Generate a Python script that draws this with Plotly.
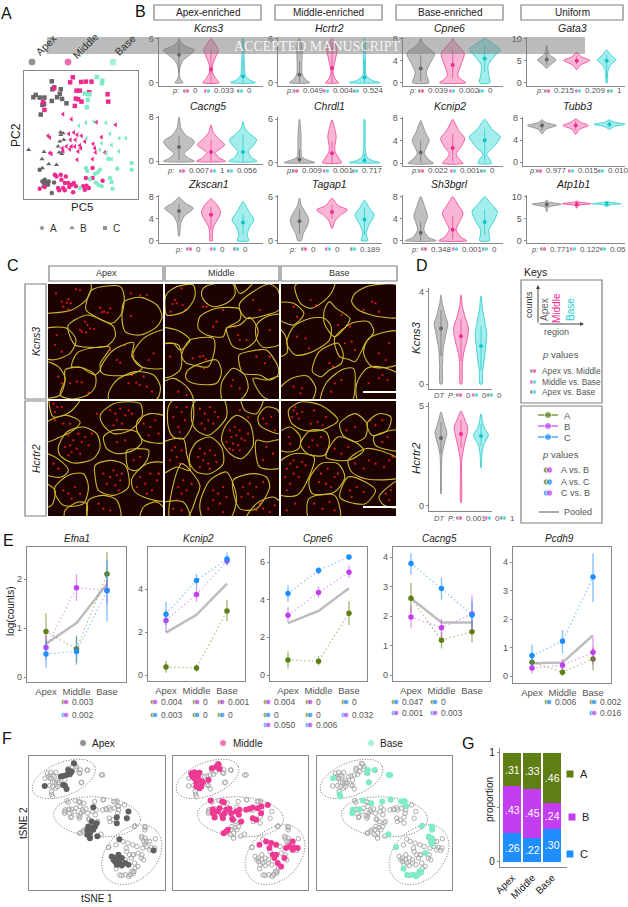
import numpy as np
import plotly.graph_objects as go

W, H = 628, 907
FONT = "Liberation Sans"
GREY, PINK, TEAL = "#666666", "#ee2a8f", "#14cfcf"
MINT = "#7febc7"
OLIVE, PURPLE, BLUE = "#5f7f14", "#c23ef0", "#1f8fff"
TXT = "#555555"

# ---------- Panel A: PC5 / PC2 scores (arbitrary score units) ----------
a_sq_apex = [(156,244),(158,268),(183,268),(101,292),(108,285),(120,293),(134,293),(156,303),(172,292),(187,297),(200,310),(128,315),(133,312),(123,344),(163,262),(180,282)]
a_sq_mid = [(219,232),(211,247),(244,246),(258,245),(275,245),(163,265),(230,272),(240,272),(228,296),(235,298),(245,305),(225,318),(323,283),(130,307),(134,330),(268,277),(325,305)]
a_sq_base = [(291,231),(307,242),(306,250),(255,281),(268,283),(264,300),(261,322)]
a_tr_apex = [(87,450),(133,456),(127,478),(147,493),(170,495),(128,505),(182,397),(190,400),(183,405),(180,425),(192,420),(175,440),(178,458),(188,455),(186,462)]
a_tr_mid = [(190,343),(215,358),(347,375),(290,367),(145,408),(150,413),(207,402),(222,398),(232,405),(245,408),(227,420),(212,420),(280,432),(305,412),(255,425),(200,440),(215,440),(225,440),(240,437),(243,445),(235,455),(188,445),(150,460),(155,462),(285,445),(287,458),(315,458),(232,480),(278,478),(190,453),(210,448)]
a_tr_base = [(258,368),(282,365),(318,369),(237,378),(378,415),(358,415),(330,402),(305,430),(300,450),(320,460),(357,455),(328,478),(335,478),(260,415),(335,435)]
a_ci_apex = [(120,510),(135,540),(130,545),(140,548),(147,545),(135,552),(145,555),(163,548),(156,580),(132,560),(128,545)]
a_ci_mid = [(165,525),(183,525),(198,530),(185,540),(195,550),(205,550),(215,555),(222,550),(228,560),(208,562),(190,565),(175,565),(178,572),(195,572),(120,567),(135,562),(220,578),(250,560),(260,558),(267,565),(255,570),(258,535),(278,535),(278,505),(308,543),(170,530)]
a_ci_base = [(258,505),(262,513),(300,510),(293,518),(285,522),(352,507),(395,490),(395,510),(330,535),(335,547),(288,548),(296,556),(305,560),(338,567),(240,565),(270,538),(325,477)]

# ---------- Violins: ([(value, relative width)...], median, low, high), apex/middle/base ----------
kcns3 = [([(0,.27),(.4,.12),(.9,.03),(2,.05),(3,.25),(3.8,.7),(4.45,1),(5,.4),(5.5,.12),(6,.02)],3.8,1.5,5.4),
         ([(0,.53),(.6,.3),(1.5,.08),(2.5,.12),(3.5,.3),(4.5,.47),(5.3,.25),(6,.03)],1.8,0,4.6),
         ([(0,.8),(.4,.4),(1,.15),(2,.1),(3.5,.07),(5,.06),(6,.02)],.85,0,3.4)]
hcrtr2 = [([(0,.65),(.5,.35),(1.2,.17),(2.5,.15),(4,.17),(5,.14),(6,.02)],1.1,0,2.9),
          ([(0,.43),(.5,.2),(1.5,.07),(3,.2),(4.5,.33),(5.3,.22),(6,.03)],2,0,5.4),
          ([(0,1),(.3,.5),(1,.1),(2.5,.06),(4,.07),(5,.06),(6,.02)],.7,0,3.2)]
cpne6 = [([(0,.53),(1,.42),(2,.36),(3.5,.6),(5.3,.9),(6.5,.4),(7.3,.12),(8,.02)],2.6,.2,5),
         ([(0,.85),(.6,.55),(1.4,.33),(3,.5),(5.3,.75),(6.7,.38),(7.5,.1),(8,.02)],3.2,.8,5.9),
         ([(0,.33),(1.5,.25),(3.2,.22),(4.7,.6),(6,1),(7,.6),(7.7,.2),(8,.03)],4.4,2,6.9)]
gata3 = [([(3.3,.02),(4.2,.28),(5.2,.6),(6.2,.22),(7.2,.06),(8.5,.01)],5.3,4,7),
         ([(3,.02),(4,.25),(5.1,.85),(5.8,.35),(6.8,.03)],5,4.2,6),
         ([(0,.04),(2.5,.07),(4,.25),(5.2,.6),(6.2,.3),(7.4,.02)],5,1,6.3)]
cacng5 = [([(0,1),(.6,.6),(1.4,.33),(2.5,.75),(3.6,1),(4.8,.42),(6,.13),(8,.01)],2.6,.2,4.6),
          ([(0,.93),(.6,.55),(1.6,.27),(2.3,.6),(3,.88),(4.2,.45),(5.3,.14),(6.6,.01)],1.7,0,3.9),
          ([(0,.9),(.7,.55),(1.75,.33),(2.8,.65),(3.9,.88),(5,.45),(6,.12),(7.2,.01)],1.7,0,4.8)]
chrdl1 = [([(0,1),(.35,.55),(.8,.15),(2,.1),(3.5,.1),(5,.06),(6,.01)],.45,0,1.8),
          ([(0,.62),(.6,.45),(1.5,.2),(2.2,.18),(3.6,.27),(5,.14),(5.9,.02)],1.3,0,3),
          ([(0,1),(.3,.5),(.8,.15),(2,.05),(4,.04),(6,.02)],.35,0,1.2)]
kcnip2 = [([(0,.82),(.7,.5),(1.8,.22),(3,.4),(4.1,.55),(5.5,.3),(7.6,.01)],1.9,.2,4),
          ([(0,.67),(.8,.4),(1.7,.22),(3,.55),(4.4,.78),(5.8,.4),(7.8,.01)],2.7,.3,5.2),
          ([(0,.44),(.8,.3),(1.6,.12),(3,.6),(4.7,1),(6,.5),(7.8,.02)],4.1,.3,6.1)]
tubb3 = [([(5.2,.02),(6,.25),(6.7,.93),(7.2,.25),(7.7,.02)],6.7,5.8,7.4),
         ([(5.1,.02),(6,.25),(6.7,.82),(7.3,.3),(7.9,.02)],6.7,5.8,7.5),
         ([(6,.02),(6.5,.3),(6.9,1),(7.3,.3),(7.7,.02)],6.9,6.3,7.4)]
zkscan1 = [([(.8,.01),(1.8,.07),(3.1,.11),(4.5,.35),(5.9,.93),(6.8,.42),(7.9,.02)],5.4,3.5,6.7),
           ([(0,.09),(1,.08),(2.5,.15),(4,.45),(5,.62),(6.3,.45),(7.6,.02)],4.7,2,6.2),
           ([(0,.38),(.7,.3),(1.3,.27),(2.6,.45),(3.8,.71),(5.2,.4),(7.1,.02)],3.3,1,4.9)]
tagap1 = [([(0,.11),(1,.25),(2,.5),(2.8,.6),(3.8,.4),(4.8,.12),(5.8,.01)],2.65,.9,4.3),
          ([(1.7,.02),(2.7,.2),(3.5,.55),(4.2,1),(4.8,.4),(5.8,.02)],3.9,3,4.9),
          ([(0,.22),(.5,.16),(1,.11),(2.2,.3),(3.5,.62),(4.5,.3),(5.5,.02)],2.9,.8,4.5)]
sh3bgrl = [([(0,1),(.6,.5),(2,.2),(3.2,.3),(4.4,.44),(6,.28),(8,.02)],1.45,0,3.5),
           ([(0,.9),(.6,.55),(2,.22),(3.5,.45),(5,.67),(6.5,.35),(8,.02)],2,.2,4.5),
           ([(0,.33),(1,.28),(2,.27),(3.6,.6),(5.3,.82),(6.6,.45),(8,.02)],3.4,1,5.7)]
atp1b1 = [([(6.6,.01),(7.6,.1),(8.3,.93),(8.8,.12),(9.2,.01)],8.2,7.6,8.9),
          ([(7.4,.01),(8,.12),(8.4,.93),(8.8,.15),(9,.01)],8.3,7.7,8.9),
          ([(7.8,.02),(8.2,.3),(8.4,.93),(8.7,.25),(8.9,.02)],8.4,8,8.7)]
d_kcns3 = [([(0,.06),(.8,.09),(1.5,.14),(2.3,.36),(2.6,.44),(3,.26),(3.5,.08),(3.85,.01)],2.4,1.2,3.2),
           ([(0,.05),(.8,.08),(1.3,.16),(2,.42),(2.4,.48),(2.9,.26),(3.4,.08),(3.85,.01)],2.07,1,2.8),
           ([(0,.07),(.5,.1),(1,.2),(1.6,.3),(2.2,.37),(2.7,.25),(3.2,.1),(3.8,.01)],1.65,.6,2.5)]
d_hcrtr2 = [([(.6,.01),(1.5,.03),(2.5,.06),(3,.18),(3.65,.38),(4.2,.18),(4.7,.01)],3.4,2.6,4.2),
            ([(.15,.02),(1.5,.04),(2.3,.05),(3,.2),(3.9,.44),(4.3,.26),(4.75,.01)],3.6,2.9,4.3),
            ([(1.9,.01),(2.6,.06),(3,.15),(3.55,.48),(3.9,.22),(4.2,.1),(4.6,.01)],3.5,3,4.1)]

c1_cells = [[(130,60),(272,72),(262,115),(215,150),(144,160),(130,160)],[(275,90),(320,78),(360,80),(372,110),(365,160),(335,190),(290,172),(258,150),(262,115)],[(372,125),(420,112),(470,135),(485,170),(470,200),(420,225),(375,215),(365,160)],[(205,195),(260,165),(305,180),(340,200),(345,230),(320,258),(270,262),(225,255),(205,215)],[(130,210),(200,205),(228,240),(210,280),(170,298),(144,298),(130,290)],[(130,305),(175,320),(195,355),(180,405),(144,415),(130,415)],[(195,330),(240,322),(285,345),(285,380),(262,405),(215,417),(180,405),(195,360)],[(215,320),(230,280),(270,265),(330,262),(300,310),(300,330),(285,345),(240,322)],[(305,315),(340,270),(400,248),(395,290),(425,325),(385,345),(320,345),(302,335)],[(400,275),(430,235),(488,210),(500,220),(500,320),(440,325),(410,312),(398,290)],[(325,400),(350,360),(405,335),(460,345),(480,380),(470,417),(330,425)]]
c2_cells = [[(498,105),(530,80),(580,75),(585,110),(560,150),(520,165),(500,165)],[(610,85),(640,72),(700,72),(705,105),(680,130),(640,140),(615,125),(605,105)],[(705,65),(720,100),(740,90),(760,65)],[(720,130),(760,95),(810,72),(835,90),(838,150),(800,165),(740,175),(720,150)],[(600,170),(650,145),(720,148),(720,180),(680,205),(670,230),(620,225),(595,205)],[(680,205),(720,195),(750,172),(775,210),(765,245),(730,268),(700,260),(685,230)],[(770,195),(800,170),(845,165),(845,250),(790,262),(770,235)],[(480,205),(530,210),(570,240),(540,270),(520,250),(480,250)],[(550,270),(570,240),(640,235),(645,265),(625,320),(580,315),(560,310),(545,290)],[(480,255),(535,255),(545,290),(540,330),(510,350),(480,350)],[(560,335),(590,315),(650,300),(665,335),(650,370),(580,370),(558,355)],[(718,285),(760,272),(800,270),(835,320),(835,345),(810,360),(780,345),(730,340),(718,310)],[(665,370),(700,325),(735,345),(745,385),(725,417),(670,425)],[(760,355),(800,360),(838,350),(845,425),(790,410)],[(480,375),(520,355),(565,385),(580,425),(480,425)]]
c3_cells = [[(885,75),(1000,65),(990,100),(960,130),(930,145),(900,130)],[(1060,100),(1100,78),(1190,78),(1190,170),(1130,170),(1070,150),(1050,125)],[(985,125),(1005,145),(1045,175),(1040,190),(1000,230),(970,190),(970,150)],[(860,250),(880,200),(930,175),(970,175),(990,200),(985,240),(935,275),(885,285)],[(1000,235),(1050,190),(1100,185),(1115,215),(1090,250),(1060,305),(1040,298),(1015,290)],[(1085,280),(1100,235),(1190,215),(1190,310),(1110,320)],[(935,335),(955,275),(1010,250),(1025,280),(1020,310),(985,330),(960,350)],[(835,205),(855,225),(860,280),(835,290)],[(835,390),(875,355),(920,348),(945,385),(930,425),(835,425)],[(960,425),(975,370),(1020,330),(1055,325),(1060,380),(1050,425)],[(1065,370),(1095,325),(1130,320),(1190,345),(1190,425),(1070,425)],[(835,130),(880,130),(910,160),(880,195),(835,175)]]
c4_cells = [[(300,465),(340,430),(420,430),(425,470),(390,510),(340,520),(310,495)],[(412,480),(450,460),(495,470),(495,545),(430,540),(410,510)],[(175,560),(200,515),(250,500),(290,520),(300,560),(280,595),(220,608),(180,585)],[(135,490),(200,465),(240,485),(220,510),(180,530),(135,545)],[(310,530),(340,510),(410,515),(425,545),(400,570),(350,580),(320,565)],[(285,615),(330,600),(375,615),(385,680),(340,705),(295,690),(285,650)],[(380,570),(410,565),(445,570),(440,600),(410,630),(385,625)],[(395,655),(440,610),(495,610),(495,720),(430,710),(400,690)],[(165,680),(205,645),(250,640),(265,680),(250,730),(190,735),(165,700)],[(265,720),(310,705),(350,720),(360,775),(265,775)],[(135,580),(180,600),(205,630),(185,650),(135,640)],[(195,750),(235,725),(260,730),(255,775),(195,775)],[(135,670),(165,690),(155,735),(135,740)],[(150,415),(240,415),(210,455),(160,470)],[(430,740),(470,725),(495,750),(495,775),(420,775)]]
c5_cells = [[(505,440),(525,415),(575,415),(578,490),(550,535),(520,530),(505,500)],[(580,430),(600,415),(670,415),(680,470),(625,525),(590,510),(575,480)],[(675,500),(710,465),(750,490),(760,555),(725,595),(690,580),(665,540)],[(570,580),(590,545),(630,530),(665,560),(670,610),(630,640),(590,635),(570,610)],[(485,550),(550,535),(560,580),(570,630),(530,620),(485,640)],[(510,720),(545,610),(600,675),(590,710),(560,775),(510,775)],[(600,730),(630,660),(680,635),(700,670),(710,720),(690,775),(610,775)],[(700,660),(760,640),(800,650),(810,680),(770,745),(720,745)],[(770,540),(800,545),(845,540),(845,620),(780,620)],[(775,470),(800,440),(835,450),(845,520),(780,495)],[(740,775),(770,730),(820,710),(845,730),(845,775)],[(485,730),(550,725),(570,775),(485,775)],[(725,415),(790,415),(770,460),(735,450)]]
c6_cells = [[(865,450),(900,425),(960,435),(1010,480),(960,510),(910,510),(875,490)],[(1015,490),(1060,460),(1095,490),(1090,530),(1060,545),(1025,525)],[(900,550),(930,510),(975,515),(985,545),(970,585),(920,580)],[(835,520),(870,500),(900,530),(895,565),(860,575),(835,565)],[(1095,490),(1130,460),(1165,470),(1155,510),(1110,525)],[(1040,600),(1090,565),(1130,570),(1190,600),(1190,650),(1090,655),(1050,635)],[(975,590),(1010,530),(1060,545),(1085,570),(1040,600)],[(835,610),(880,580),(940,590),(925,650),(890,705),(835,700)],[(925,660),(960,610),(1010,610),(1030,650),(1000,695),(935,700)],[(1015,710),(1040,650),(1090,665),(1120,690),(1090,730),(1040,725)],[(1130,710),(1190,660),(1190,740),(1145,735)],[(925,715),(1000,705),(1015,775),(925,775)],[(1115,530),(1190,510),(1190,570),(1120,555)]]

c1_spots = [(185,125),(205,118),(200,128),(212,130),(190,140),(228,88),(240,90),(205,148),(168,100),(300,143),(312,155),(322,158),(330,145),(305,157),(255,185),(262,195),(240,210),(245,215),(270,205),(282,207),(258,218),(392,168),(392,100),(440,105),(420,105),(165,255),(185,275),(170,225),(360,308),(330,270),(385,370),(408,368),(418,375),(395,345),(430,350),(440,380),(455,395),(210,370),(230,365),(245,367),(185,370),(175,350),(265,398),(350,300),(400,290),(445,300),(460,280),(375,255)]
c2_spots = [(518,132),(512,155),(530,130),(548,135),(555,150),(545,85),(525,120),(600,290),(610,288),(578,295),(560,340),(618,298),(612,325),(510,290),(545,290),(715,225),(720,240),(705,200),(740,240),(780,270),(770,290),(795,310),(810,290),(695,378),(720,385),(700,360),(670,150),(650,185),(640,200),(760,120),(780,150),(810,210),(535,395),(560,405),(620,140),(610,140)]
c3_spots = [(880,140),(890,170),(930,120),(945,135),(915,235),(890,230),(925,265),(1020,165),(1010,195),(1045,200),(1050,245),(1060,270),(1030,250),(985,310),(995,320),(1000,370),(1020,360),(990,395),(1110,125),(1120,130),(1130,155),(1085,150),(1140,345),(1130,355),(1155,360),(1100,370),(905,385),(880,380),(900,400),(1160,250),(1130,280),(1150,300)]
c4_spots = [(160,430),(172,440),(165,455),(185,440),(330,450),(345,460),(360,445),(375,465),(385,450),(350,480),(365,490),(340,495),(395,460),(205,525),(220,540),(235,520),(245,545),(255,530),(265,555),(230,565),(210,555),(195,560),(275,520),(215,575),(240,580),(205,585),(165,480),(190,490),(430,490),(450,500),(465,480),(445,525),(475,520),(340,630),(350,645),(360,660),(330,650),(320,670),(345,675),(365,640),(310,640),(355,690),(420,650),(435,670),(450,640),(470,660),(410,680),(455,690),(475,640),(440,700),(190,690),(205,700),(225,680),(240,700),(215,715),(295,730),(310,745),(330,750),(400,600),(420,590),(350,545),(375,540),(290,460),(210,490),(175,625),(160,610)]
c5_spots = [(530,440),(545,455),(520,470),(555,480),(535,500),(540,515),(560,440),(600,445),(615,460),(630,440),(645,455),(625,480),(605,490),(640,490),(655,470),(615,505),(690,510),(705,500),(720,510),(710,525),(695,530),(725,535),(680,545),(700,550),(715,555),(735,540),(700,570),(720,570),(690,565),(745,520),(600,565),(615,580),(630,570),(645,585),(595,590),(610,600),(625,610),(650,605),(600,620),(630,625),(515,570),(530,590),(510,600),(545,570),(525,560),(540,610),(550,660),(535,680),(560,690),(545,700),(530,720),(575,670),(640,690),(655,700),(670,680),(640,720),(660,730),(680,710),(625,745),(670,755),(730,680),(750,670),(770,680),(745,700),(725,710),(760,710),(790,665),(800,490),(815,470),(790,475),(825,510),(800,560),(820,580),(790,600),(770,750),(790,745),(810,755),(780,730),(825,735),(520,745),(545,750),(720,450),(745,470)]
c6_spots = [(880,450),(890,460),(875,470),(895,475),(885,440),(905,455),(930,490),(950,485),(965,495),(975,470),(940,450),(1105,480),(1120,495),(1140,480),(1035,510),(1060,500),(935,540),(950,555),(925,560),(960,530),(865,530),(870,550),(880,600),(870,610),(890,620),(905,605),(880,640),(860,625),(895,650),(870,670),(915,615),(855,650),(860,690),(1100,600),(1120,610),(1145,620),(1085,625),(1160,600),(1060,610),(960,640),(980,625),(1000,650),(975,670),(955,665),(1010,640),(990,680),(1045,690),(1065,680),(1085,695),(1050,710),(1150,700),(1165,690),(1160,720),(940,730),(965,745),(985,725),(1000,750),(1020,580),(1040,560),(1000,565),(1140,545),(1155,530),(885,730),(860,750),(1170,590)]

# ---------- Panel E: log(counts), low and high of each bar ----------
e_genes = ["Efna1", "Kcnip2", "Cpne6", "Cacng5", "Pcdh9"]
efna1_a = ([.93,.57,2.1],[.6,.3,1.7],[1.3,.85,2.55])
efna1_b = ([.6,1.82,1.77],[.35,1.55,1.5],[.85,2.1,2.0])
efna1_c = ([.47,.52,1.76],[.18,.25,1.13],[.75,.8,2.4])
efna1_pool = [.68,1.1,1.9]
kcnip2_a = ([.37,.33,2.98],[.1,.15,2.5],[.65,.5,3.5])
kcnip2_b = ([2.53,3.75,5.3],[2,3.4,5.1],[3,4.1,5.5])
kcnip2_c = ([2.83,4.4,5.4],[2.3,4.1,5.1],[3.4,4.7,5.7])
kcnip2_pool = [1.97,2.8,4.25]
cpne6_a = ([.8,.73,3.28],[.35,.5,2.65],[1.25,1,3.9])
cpne6_b = ([3.17,4.38,5.45],[2.8,4.1,5.15],[3.6,4.7,5.8])
cpne6_c = ([4.33,5.55,6.27],[3.9,5.35,6.1],[4.75,5.75,6.4])
cpne6_pool = [2.75,3.4,4.6]
cacng5_a = ([2.6,1.18,1.47],[2.1,.9,1.1],[3.13,1.45,1.85])
cacng5_b = ([1.97,1.6,2.07],[1.6,1.3,1.5],[2.35,1.9,2.7])
cacng5_c = ([3.78,2.93,2.03],[3.4,2.55,1.6],[4.13,3.3,2.5])
cacng5_pool = [2.6,1.78,1.78]
pcdh9_a = ([.48,.13,.6],[.3,0,.2],[.7,.3,1])
pcdh9_b = ([.28,.38,.83],[.1,.2,.4],[.5,.6,1.35])
pcdh9_c = ([.72,1.22,3.47],[.35,.8,2.6],[1.1,1.62,4.3])
pcdh9_pool = [.45,.47,1.43]

# ---------- Panel F: tSNE embedding per region ----------
tsne_apex = [(205,225),(190,243),(200,240),(215,230),(222,205),(210,238),(183,245),(135,273),(195,272),(200,282),(190,270),(280,337),(385,350),(380,370),(350,367),(350,385),(275,380),(290,385),(265,395),(285,395),(262,405),(280,405),(270,415),(292,424),(270,430),(262,420),(275,398),(358,433),(335,485),(345,490),(355,495),(365,490),(375,505),(350,510),(365,512),(385,510),(355,480),(345,500),(460,467),(340,495),(358,505)]
tsne_mid_raw = [(575,235),(585,232),(600,233),(595,245),(585,250),(590,262),(605,258),(578,245),(600,280),(590,275),(605,275),(627,255),(637,220),(657,208),(660,222),(650,215),(610,262),(633,317),(668,320),(673,322),(640,343),(660,340),(640,355),(645,368),(655,350),(668,362),(680,345),(690,342),(675,355),(695,355),(710,350),(720,345),(718,360),(700,375),(670,370),(740,345),(750,342),(760,338),(775,340),(785,335),(805,330),(785,355),(770,375),(760,370),(698,372),(685,405),(672,415),(680,410),(725,380),(780,450),(800,440),(815,445),(830,450),(810,460),(820,480),(825,490),(835,505),(845,515),(855,490),(860,460),(870,455),(880,440),(885,458),(895,460),(880,465),(830,480)]
tsne_base_raw = [(70,250),(90,298),(92,305),(175,225),(172,233),(195,225),(178,263),(238,240),(242,240),(130,345),(128,355),(150,343),(160,317),(185,325),(218,320),(243,314),(275,320),(285,318),(290,333),(338,393),(368,395),(368,405),(237,418),(260,457),(358,425),(368,430),(365,440),(368,448),(348,475),(282,522),(293,541),(310,540),(320,545),(330,530),(335,530),(325,540)]
tsne_extra = [(160,240),(150,250),(165,262),(150,272),(175,265),(155,290),(230,215),(240,235),(263,226),(245,262),(205,322),(240,335),(250,350),(205,345),(195,350),(215,365),(240,365),(310,315),(345,320),(355,345),(320,345),(330,345),(240,415),(330,380),(403,395),(435,398),(325,458),(410,455),(425,430),(440,440),(465,432),(380,470),(400,480),(425,480),(430,495),(405,520),(390,540),(400,535),(365,542),(375,495)]
ellipse_centers = [(192,252),(291,366),(395,480)]
ellipse_axes = [(100,50),(130,60),(103,75)]
ellipse_tilts = [-22,4,-45]

# ---------- Panel G ----------
regions = ["Apex", "Middle", "Base"]
prop_c = [.26,.22,.30]
prop_b = [.43,.45,.24]
prop_a = [.31,.33,.46]

# ---------- p values: three comparisons per row ----------
p_kcns3 = ["0","0.033","0"]; p_hcrtr2 = ["0.049","0.004","0.524"]; p_cpne6 = ["0.039","0.002","0"]; p_gata3 = ["0.215","0.209","1"]
p_cacng5 = ["0.007","1","0.056"]; p_chrdl1 = ["0.009","0.001","0.717"]; p_kcnip2 = ["0.022","0.001","0"]; p_tubb3 = ["0.977","0.015","0.010"]
p_zkscan1 = ["0","0","0"]; p_tagap1 = ["0","0","0.189"]; p_sh3bgrl = ["0.348","0.001","0"]; p_atp1b1 = ["0.771","0.122","0.05"]
p_d_kcns3 = ["0","0","0"]; p_d_hcrtr2 = ["0.001","0","1"]

fig = go.Figure()
annots, shapes = [], []
n_ax = [0]
page_dots = ([], [], [], [], [])

def px(x): return x / W
def py(y): return 1 - y / H

def add_axes(x0, y0, x1, y1, xr, yr, xopt=None, yopt=None):
    n_ax[0] += 1
    i = n_ax[0]
    base = dict(showgrid=False, zeroline=False, showline=False, showticklabels=False, ticks="")
    xa = dict(base, domain=[px(x0), px(x1)], range=list(xr), anchor=f"y{i}")
    ya = dict(base, domain=[py(y1), py(y0)], range=list(yr), anchor=f"x{i}")
    xa.update(xopt or {}); ya.update(yopt or {})
    fig.layout[f"xaxis{i}"] = xa
    fig.layout[f"yaxis{i}"] = ya
    return f"x{i}", f"y{i}"

def text(x, y, s, size=9, color=TXT, anchor="left", angle=0, italic=False, family=FONT):
    if italic: s = f"<i>{s}</i>"
    annots.append(dict(x=px(x), y=py(y), xref="paper", yref="paper", text=s, showarrow=False,
                       xanchor=anchor, yanchor="middle", textangle=angle,
                       font=dict(size=size, color=color, family=family)))

def box(x0, y0, x1, y1, color="#808080", w=1.2):
    shapes.append(dict(type="rect", xref="paper", yref="paper", x0=px(x0), x1=px(x1), y0=py(y1), y1=py(y0),
                       line=dict(color=color, width=w), fillcolor="rgba(0,0,0,0)", layer="below"))

def dot(x, y, c, size, symbol="circle"):
    page_dots[0].append(x); page_dots[1].append(y); page_dots[2].append(c); page_dots[3].append(size); page_dots[4].append(symbol)

def pair(x, y, c1, c2, size=4.5, gap=2.0):
    dot(x - gap, y, c1, size); dot(x + gap, y, c2, size)

FRAME = dict(showline=True, linecolor="#888888", linewidth=1.2, mirror=True)
TICKS = dict(showticklabels=True, ticks="outside", ticklen=2, tickcolor="#888888",
             tickfont=dict(size=9, color=TXT, family=FONT))
STY = [("rgba(115,115,115,.45)", "#909090", GREY), ("rgba(240,70,150,.4)", "#f0509a", PINK), ("rgba(50,215,215,.45)", "#34d0d0", "#12c4c4")]

def violin_panel(data, xa, top, bot, t0, t1, centers, tickvals):
    (v0, p0), (v1, p1) = t0, t1
    s = (p0 - p1) / (v1 - v0)
    d = centers[1] - centers[0]
    xr = (1 + (xa[0] - centers[0]) / d, 1 + (xa[1] - centers[0]) / d)
    yr = (v0 + (p0 - bot) / s, v0 + (p0 - top) / s)
    ax = add_axes(xa[0], top, xa[1], bot, xr, yr,
                  dict(showline=True, linecolor="#888888", linewidth=1.2),
                  dict(showline=True, linecolor="#888888", linewidth=1.2, tickvals=tickvals, **TICKS))
    for k, (prof, med, lo, hi) in enumerate(data):
        c = 1 + k
        ps = [(c + w * 15.5 / d, v) for v, w in prof] + [(c - w * 15.5 / d, v) for v, w in prof[::-1]]
        ps.append(ps[0])
        fig.add_trace(go.Scatter(x=[p[0] for p in ps], y=[p[1] for p in ps], xaxis=ax[0], yaxis=ax[1], mode="lines",
                                 line=dict(color=STY[k][1], width=.9, shape="spline", smoothing=.7), fill="toself", fillcolor=STY[k][0]))
        fig.add_trace(go.Scatter(x=[c, c], y=[lo, hi], xaxis=ax[0], yaxis=ax[1], mode="lines", line=dict(color=STY[k][2], width=.9), opacity=.7))
        fig.add_trace(go.Scatter(x=[c], y=[med], xaxis=ax[0], yaxis=ax[1], mode="markers", marker=dict(color=STY[k][2], size=4)))

def p_row(y, plabel_x, xs, vals, label="p:", size=7.5):
    text(plabel_x, y, label, size, TXT, "left", italic=True)
    cols = [(GREY, PINK), (PINK, TEAL), (GREY, TEAL)]
    for x, v, (c1, c2) in zip(xs, vals, cols):
        pair(x, y, c1, c2, 4.5, 1.4)
        text(x + 5, y, v, 8, TXT)

# ---------- Panel A ----------
axA = add_axes(24, 71, 138, 199, (73, 414), (598, 213), FRAME, FRAME)
for pts, sym, col, sz in [(a_sq_apex, "square", GREY, 4.5), (a_sq_mid, "square", PINK, 4.5), (a_sq_base, "square", MINT, 4.5),
                          (a_tr_apex, "triangle-up", GREY, 4.5), (a_tr_mid, "triangle-left", PINK, 4.5), (a_tr_base, "triangle-left", MINT, 4.5),
                          (a_ci_apex, "circle", GREY, 4.5), (a_ci_mid, "circle", PINK, 4.5), (a_ci_base, "circle", MINT, 4.5)]:
    fig.add_trace(go.Scatter(x=[p[0] for p in pts], y=[p[1] for p in pts], xaxis=axA[0], yaxis=axA[1], mode="markers",
                             marker=dict(symbol=sym, color=col, size=sz)))
text(16, 135, "PC2", 12, "#222", "center", -90)
text(82, 207, "PC5", 11.5, "#222", "center")
for x, lab in [(46, "Apex"), (85, "Middle"), (125, "Base")]:
    text(x, 45 if lab != "Middle" else 46, lab, 10.5, "#333", "center", -45)
for x, c in [(32, GREY), (68, PINK), (113, MINT)]:
    dot(x, 62, c, 8)
dot(42, 228, GREY, 5); dot(72, 228, GREY, 6.5, "triangle-up"); dot(105, 228, GREY, 5, "square")
text(48, 228, "A", 10, "#333"); text(78, 228, "B", 10, "#333"); text(111, 228, "C", 10, "#333")

# ---------- Panel B ----------
for (x0, x1, s) in [(154, 261, "Apex-enriched"), (275, 382, "Middle-enriched"), (396, 503, "Base-enriched"), (521, 623, "Uniform")]:
    box(x0, 5, x1, 20)
    text((x0 + x1) / 2, 12.5, s, 10, "#222", "center")
C1, C2, C3 = (179, 211, 244), (299.5, 332, 364.5), (420.7, 452.7, 485.3)
C4, C4b = (546.7, 576.7, 607.7), (542, 575.7, 608)
X1, X2, X3, X4, X4b = (158.7, 263), (278, 382), (402.7, 503), (526.7, 625), (523, 625)
violin_panel(kcns3, X1, 37, 86, (0, 82.7), (6, 38.7), C1, [0, 6])
violin_panel(hcrtr2, X2, 37, 86, (0, 82.7), (6, 38.7), C2, [0, 6])
violin_panel(cpne6, X3, 37, 86, (0, 82.7), (8, 38.7), C3, [0, 4, 8])
violin_panel(gata3, X4, 37, 86, (0, 82.7), (10, 38.7), C4, [0, 5, 10])
violin_panel(cacng5, X1, 116, 164.3, (0, 161.3), (8, 117.3), C1, [0, 8])
violin_panel(chrdl1, X2, 117, 165.7, (0, 162.7), (6, 119.3), C2, [0, 6])
violin_panel(kcnip2, X3, 117, 165.7, (0, 163.3), (8, 118.3), C3, [0, 4, 8])
violin_panel(tubb3, X4b, 117, 165.7, (0, 162.3), (8, 118.3), C4b, [0, 4, 8])
violin_panel(zkscan1, X1, 195, 243.3, (0, 240.7), (8, 196.7), C1, [0, 4, 8])
violin_panel(tagap1, X2, 195, 243.3, (0, 240.7), (6, 196.7), C2, [0, 6])
violin_panel(sh3bgrl, X3, 195, 242.7, (0, 240.7), (8, 196.7), C3, [0, 4, 8])
violin_panel(atp1b1, X4, 195, 243.3, (0, 240.7), (10, 196.7), C4, [0, 5, 10])
for x, y, s in [(208,28,"Kcns3"),(329,28,"Hcrtr2"),(449,28,"Cpne6"),(572,28,"Gata3"),(208,106,"Cacng5"),(329,106,"Chrdl1"),(450,106,"Kcnip2"),(577,106,"Tubb3"),(208,184,"Zkscan1"),(329,184,"Tagap1"),(450,184,"Sh3bgrl"),(573,184,"Atp1b1")]:
    text(x, y, s, 10.5, "#222", "center", italic=True)
p_row(91, 170, (186,207,240), p_kcns3); p_row(91, 284, (296,326,356), p_hcrtr2)
p_row(91, 407, (421,452,481), p_cpne6); p_row(91, 534, (547,578,610), p_gata3)
p_row(171, 165, (182,213,230), p_cacng5); p_row(171, 284, (295,326,355), p_chrdl1)
p_row(171, 409, (421,453,483), p_kcnip2); p_row(171, 527, (539,571,601), p_tubb3)
p_row(249, 173, (189,213,236), p_zkscan1); p_row(249, 287, (304,328,353), p_tagap1)
p_row(249, 409, (424,455,485), p_sh3bgrl); p_row(249, 529, (543,573,603), p_atp1b1)

# ---------- Panel C ----------
for (x0, x1, s) in [(49, 163, "Apex"), (165, 279, "Middle"), (281, 397, "Base")]:
    box(x0, 266, x1, 281)
    text((x0 + x1) / 2, 273, s, 9, "#333", "center")
for (y0, y1, s) in [(284, 399, "Kcns3"), (401, 516, "Hcrtr2")]:
    box(25, y0, 46, y1)
    text(35.5, (y0 + y1) / 2, s, 10.5, "#222", "center", -90, italic=True)
cpanels = [((48,163),(284,399),(144,488),(72,417),c1_cells,c1_spots),((165,279),(284,399),(495,838),(72,417),c2_cells,c2_spots),((281,396),(284,399),(843,1180),(72,417),c3_cells,c3_spots),
           ((48,163),(401,516),(144,488),(422,767),c4_cells,c4_spots),((165,279),(401,516),(495,838),(422,767),c5_cells,c5_spots),((281,396),(401,516),(843,1180),(422,767),c6_cells,c6_spots)]
for (xp, yp, xr, yr, cells, spots) in cpanels:
    ax = add_axes(xp[0], yp[0], xp[1], yp[1], xr, (yr[1], yr[0]))
    shapes.append(dict(type="rect", xref="paper", yref="paper", x0=px(xp[0]), x1=px(xp[1]), y0=py(yp[1]), y1=py(yp[0]),
                       fillcolor="#1d0202", line=dict(width=0), layer="below"))
    fig.add_trace(go.Scatter(x=[p[0] for p in spots], y=[p[1] for p in spots], xaxis=ax[0], yaxis=ax[1], mode="markers",
                             marker=dict(color="#e8141c", size=2.2)))
    for cell in cells:
        cc = cell + cell[:1]
        fig.add_trace(go.Scatter(x=[p[0] for p in cc], y=[p[1] for p in cc], xaxis=ax[0], yaxis=ax[1], mode="lines",
                                 line=dict(color="#cdb92e", width=1.1, shape="spline", smoothing=.8)))
for y in (392, 507):
    shapes.append(dict(type="line", xref="paper", yref="paper", x0=px(363), x1=px(396), y0=py(y), y1=py(y), line=dict(color="white", width=2.2), layer="above"))

# ---------- Panel D ----------
violin_panel(d_kcns3, (429, 492), 288, 389, (0, 384), (4, 291.7), (441, 461, 481), [0, 4])
violin_panel(d_hcrtr2, (429, 492), 401.7, 510.7, (0, 505.7), (5, 406), (441, 461, 481), [0, 5])
text(416, 338, "Kcns3", 11.5, "#222", "center", -90, italic=True)
text(416, 458, "Hcrtr2", 11.5, "#222", "center", -90, italic=True)
text(432, 395, "DT", 7.5, TXT, "left", italic=True); text(432, 518, "DT", 7.5, TXT, "left", italic=True)
p_row(395, 446, (459,475,490), p_d_kcns3, "P:"); p_row(518, 446, (459,488,503), p_d_hcrtr2, "P:")

# ---------- Keys ----------
text(522, 272, "Keys", 10.5, "#222")
box(521, 280, 602, 403); box(521, 406, 602, 523)
for (x, y, ax_, ay_) in [(538, 285, 0, 39), (584, 324, -46, 0)]:
    annots.append(dict(x=px(x), y=py(y), xref="paper", yref="paper", showarrow=True, ax=ax_, ay=ay_, axref="pixel", ayref="pixel",
                       text="", arrowhead=2, arrowsize=.8, arrowwidth=1, arrowcolor="#444"))
text(529, 305, "counts", 9, "#333", "center", -90)
text(544, 310, "Apex", 10, GREY, "center", -90); text(557, 308, "Middle", 10, PINK, "center", -90); text(570, 310, "Base", 10, TEAL, "center", -90)
text(556, 332, "region", 9, TXT, "center")
text(560, 354, "<i>p</i> values", 9.5, TXT, "center")
for y, (c1, c2), s in [(371, (GREY, PINK), "Apex vs. Middle"), (382, (PINK, TEAL), "Middle vs. Base"), (392, (GREY, TEAL), "Apex vs. Base")]:
    pair(533, y, c1, c2, 4.5, 1.4); text(540, y, s, 8.3, TXT)
text(560, 455, "<i>p</i> values", 9.5, TXT, "center")
for y, (c1, c2), s in [(470, (OLIVE, PURPLE), "A vs. B"), (482, (OLIVE, BLUE), "A vs. C"), (493, (BLUE, PURPLE), "C vs. B")]:
    pair(548, y, c1, c2, 6.5, 1.6); text(559, y, s, 9, TXT)
text(562, 512, "Pooled", 9, TXT)

# ---------- Panel E ----------
epanels = [((27,126),(547,682),(46,77,107),(0,677),(2,579),efna1_a,efna1_b,efna1_c,efna1_pool,[0,1,2]),
           ((148,245),(547,681),(166,197,227),(0,675),(4,589),kcnip2_a,kcnip2_b,kcnip2_c,kcnip2_pool,[0,2,4]),
           ((270,367),(547,681),(288,319,349),(0,675),(6,562),cpne6_a,cpne6_b,cpne6_c,cpne6_pool,[0,2,4,6]),
           ((393,490),(547,681),(411,441,472),(0,675),(4,557),cacng5_a,cacng5_b,cacng5_c,cacng5_pool,[0,1,2,3,4]),
           ((513,611),(547,683),(532,562,593),(0,676),(4,562),pcdh9_a,pcdh9_b,pcdh9_c,pcdh9_pool,[0,1,2,3,4])]
e_colors = [(OLIVE, "rgba(95,127,20,.55)"), (PURPLE, "rgba(194,62,240,.5)"), (BLUE, "rgba(31,143,255,.55)")]
for (xp, yp, cen, t0, t1, a_, b_, c_, pool, tv) in epanels:
    d = (cen[2] - cen[0]) / 2
    s = (t0[1] - t1[1]) / (t1[0] - t0[0])
    xr = (1 + (xp[0] - cen[0]) / d, 1 + (xp[1] - cen[0]) / d)
    yr = (t0[0] + (t0[1] - yp[1]) / s, t0[0] + (t0[1] - yp[0]) / s)
    ax = add_axes(xp[0], yp[0], xp[1], yp[1], xr, yr,
                  dict(FRAME, showticklabels=True, tickvals=[1,2,3], ticktext=regions, ticks="", tickfont=dict(size=9.5, color=TXT, family=FONT)),
                  dict(FRAME, tickvals=tv, **TICKS))
    fig.add_trace(go.Scatter(x=[1,2,3], y=pool, xaxis=ax[0], yaxis=ax[1], mode="lines", line=dict(color="#bdbdbd", width=2.5)))
    for (vals, lo, hi), (col, light) in zip((a_, b_, c_), e_colors):
        fig.add_trace(go.Scatter(x=[1,2,3], y=vals, xaxis=ax[0], yaxis=ax[1], mode="lines+markers",
                                 line=dict(color=light, width=1.1, dash="1.5px,2.5px"), marker=dict(color=col, size=5.5),
                                 error_y=dict(type="data", array=[h - v for h, v in zip(hi, vals)], arrayminus=[v - l for l, v in zip(lo, vals)],
                                              thickness=1.4, width=0, color=light)))
for x, g in zip((77, 198, 318, 439, 559), e_genes):
    text(x, 538, g, 10, "#222", "center", italic=True)
text(10, 612, "log(counts)", 10, "#222", "center", -90)
AB, AC, CB = (OLIVE, PURPLE), (OLIVE, BLUE), (BLUE, PURPLE)
e_pvals = [(65,702,AB,"0.003"),(65,715,CB,"0.002"),
           (154,702,AB,"0.004"),(154,715,AC,"0.003"),(196,702,AB,"0"),(196,715,AC,"0"),(221,702,AB,"0.001"),(221,715,AC,"0"),
           (267,702,AB,"0.004"),(267,715,AC,"0"),(267,725,CB,"0.050"),(309,702,AB,"0"),(309,715,AC,"0"),(309,725,CB,"0.006"),(345,702,AC,"0"),(345,715,CB,"0.032"),
           (395,702,AC,"0.047"),(395,713,CB,"0.001"),(434,702,AC,"0"),(434,713,CB,"0.003"),
           (548,702,AC,"0.006"),(593,702,AC,"0.002"),(593,713,CB,"0.016")]
for x, y, (c1, c2), v in e_pvals:
    pair(x, y, c1, c2, 5.5, 1.3); text(x + 5, y, v, 8.5, TXT)

# ---------- Panel F ----------
tsne_mid = [(x - 432, y) for x, y in tsne_mid_raw]
tsne_base = [(x + 66, y) for x, y in tsne_base_raw]
f_groups = [((29,165), tsne_apex, "#5f5f5f", tsne_mid + tsne_base + tsne_extra),
            ((173,308), tsne_mid, "#ef3a94", tsne_apex + tsne_base + tsne_extra),
            ((317,452), tsne_base, MINT, tsne_apex + tsne_mid + tsne_extra)]
for (xp, own, col, others) in f_groups:
    ax = add_axes(xp[0], 756, xp[1], 890, (88, 494), (586, 183), FRAME, FRAME)
    for (cx, cy), (ra, rb), tilt in zip(ellipse_centers, ellipse_axes, ellipse_tilts):
        th = np.linspace(0, 2 * np.pi, 80)
        t = np.radians(tilt)
        ex = cx + ra * np.cos(th) * np.cos(t) - rb * np.sin(th) * np.sin(t)
        ey = cy + ra * np.cos(th) * np.sin(t) + rb * np.sin(th) * np.cos(t)
        fig.add_trace(go.Scatter(x=ex, y=ey, xaxis=ax[0], yaxis=ax[1], mode="lines", line=dict(color="#666", width=.8, dash="1.2px,1.5px")))
    fig.add_trace(go.Scatter(x=[p[0] for p in others], y=[p[1] for p in others], xaxis=ax[0], yaxis=ax[1], mode="markers",
                             marker=dict(symbol="circle-open", color="#aaaaaa", size=4.5, line=dict(width=1, color="#aaaaaa"))))
    fig.add_trace(go.Scatter(x=[p[0] for p in own], y=[p[1] for p in own], xaxis=ax[0], yaxis=ax[1], mode="markers",
                             marker=dict(color=col, size=6)))
for x, tx, c, s in [(83, 90, "#5f5f5f", "Apex"), (223, 231, "#ef3a94", "Middle"), (371, 378, MINT, "Base")]:
    dot(x, 743, c, 7)
    text(tx, 743, s, 10, "#222")
text(97, 898, "tSNE 1", 10, "#222", "center")
text(23, 823, "tSNE 2", 10, "#222", "center", -90)

# ---------- Panel G ----------
s = (861.7 - 752.7)
axG = add_axes(500, 748, 567, 867, (-.62 + .0, 2.74), (-(867 - 861.7) / s, 1 + (752.7 - 748) / s),
               dict(showline=True, linecolor="#888888", linewidth=1.2, showticklabels=True, tickvals=[0,1,2], ticktext=regions,
                    tickangle=-45, tickfont=dict(size=10, color="#222", family=FONT)),
               dict(showline=True, linecolor="#888888", linewidth=1.2, showticklabels=True, ticks="outside", ticklen=2, tickcolor="#888888",
                    tickvals=[0,.5,1], ticktext=["0","","1"], tickfont=dict(size=10, color="#222", family=FONT)))
for vals, col in [(prop_c, BLUE), (prop_b, PURPLE), (prop_a, OLIVE)]:
    fig.add_trace(go.Bar(x=[0,1,2], y=vals, xaxis=axG[0], yaxis=axG[1], marker=dict(color=col, line=dict(width=0)), width=.9,
                         text=[f"{v:.2f}"[1:] for v in vals], textposition="inside", insidetextanchor="middle", constraintext="none",
                         textangle=0, textfont=dict(color="white", size=10.5, family=FONT)))
text(489, 800, "proportion", 10, "#222", "center", -90)
for y, xs, c, lab in [(774, 570, OLIVE, "A"), (817, 572, PURPLE, "B"), (854, 570, BLUE, "C")]:
    shapes.append(dict(type="rect", xref="paper", yref="paper", x0=px(xs-3.5), x1=px(xs+3.5), y0=py(y+3.5), y1=py(y-3.5), fillcolor=c, line=dict(width=0)))
    text(xs + 8, y, lab, 11, "#222")

# ---------- page overlay: key marks, manuscript band, panel letters ----------
axP = add_axes(0, 0, W, H, (0, W), (H, 0))
for y, c, lab in [(415, OLIVE, "A"), (426, PURPLE, "B"), (437, BLUE, "C")]:
    fig.add_trace(go.Scatter(x=[538, 558], y=[y, y], xaxis=axP[0], yaxis=axP[1], mode="lines", line=dict(color=c, width=1.2)))
    dot(548, y, c, 7)
    text(562, y, lab, 9.5, TXT)
fig.add_trace(go.Scatter(x=[539, 559], y=[512, 512], xaxis=axP[0], yaxis=axP[1], mode="lines", line=dict(color="#aaaaaa", width=2)))
fig.add_trace(go.Scatter(x=page_dots[0], y=page_dots[1], xaxis=axP[0], yaxis=axP[1], mode="markers",
                         marker=dict(color=page_dots[2], size=page_dots[3], symbol=page_dots[4])))
shapes.append(dict(type="rect", xref="paper", yref="paper", x0=px(47), x1=px(585), y0=py(54), y1=py(37),
                   fillcolor="rgba(120,120,120,.5)", line=dict(width=0), layer="above"))
text(317, 46, "ACCEPTED MANUSCRIPT", 14, "rgba(255,255,255,.85)", "center", family="Liberation Serif")
for x, y, s_ in [(7,13,"A"),(140,12,"B"),(13,265,"C"),(422,265,"D"),(8,540,"E"),(7,738,"F"),(468,743,"G")]:
    text(x, y, s_, 16, "#111", "center")

fig.update_layout(width=W, height=H, margin=dict(l=0, r=0, t=0, b=0, autoexpand=False), autosize=False, showlegend=False, barmode="stack",
                  paper_bgcolor="white", plot_bgcolor="rgba(0,0,0,0)", annotations=annots, shapes=shapes,
                  font=dict(family=FONT), hovermode=False)
fig.write_html("out.html", config={"displayModeBar": False}, post_script="document.body.style.margin='0';")
